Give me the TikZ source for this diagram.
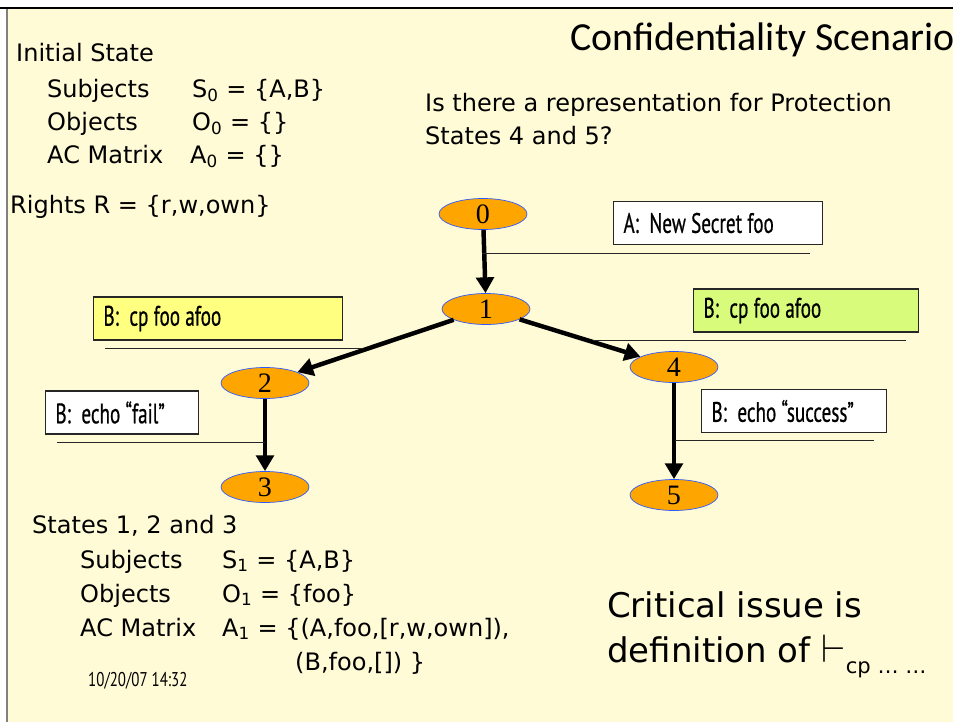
\RequirePackage{fix-cm}
\documentclass[tikz,border=0pt]{standalone}
\usepackage{fontspec}
\setmainfont{DejaVu Sans}
\newfontfamily\titlefont{Carlito}
\newfontfamily\boxfont{PT Sans}[FakeStretch=0.68,FakeBold=0.6]
\newfontfamily\datefont{PT Sans}[FakeStretch=0.75]
\newfontfamily\numfont{Liberation Serif}
\newcommand\cmdspacing{\spaceskip=4.5pt\relax}
\usetikzlibrary{shapes.geometric}
\usetikzlibrary{arrows.meta}
\definecolor{slidebg}{HTML}{FFFBD6}
\definecolor{stateorange}{HTML}{FFA500}
\definecolor{stateblue}{HTML}{2E5BFF}
\definecolor{cpyellow}{HTML}{FFFF80}
\definecolor{cpgreen}{HTML}{D9FB7B}

\begin{document}
\begin{tikzpicture}[x=0.03cm,y=-0.03cm,
  state/.style={ellipse,draw=stateblue,fill=stateorange,line width=0.6pt,
    minimum width=2.64cm,minimum height=0.93cm,inner sep=0pt,
    font=\numfont\fontsize{24}{26}\selectfont},
  cmdbox/.style={draw=black!85,fill=white,line width=0.9pt,anchor=west,
    inner xsep=0.3cm,minimum height=1.29cm,align=left,
    font=\boxfont\fontsize{24}{26}\selectfont},
  txt/.style={anchor=base west,inner sep=0pt,font=\fontsize{20.5}{24}\selectfont},
  trans/.style={line width=3.8pt,-{Triangle[width=15pt,length=13.5pt]}},
  rule/.style={line width=0.8pt,black!85}]
\useasboundingbox (0,0) rectangle (953,722);
\fill [slidebg] (6,8) rectangle (953,722);
\draw [line width=1.6pt, gray] (7,8) -- (7,722);
\draw [line width=1pt] (0,8) -- (953,8);

\node [anchor=base west,inner sep=0pt,font=\titlefont\fontsize{34}{36}\selectfont] (title) at (570,50) {Confidentiality Scenario};

% initial state
\node [txt] (init) at (16,61) {Initial State};
\node [txt] (subj0) at (47,97) {Subjects};
\node [txt] (set0) at (192,97) {S\textsubscript{0} = \{A,B\}};
\node [txt] (obj0) at (47,130) {Objects};
\node [txt] (oset0) at (192,130) {O\textsubscript{0} = \{\}};
\node [txt] (acm0) at (47,163) {AC Matrix};
\node [txt] (aset0) at (190,163) {A\textsubscript{0} = \{\}};
\node [txt] (rights) at (10,213) {Rights R = \{r,w,own\}};

\node [txt] (quest1) at (425,111) {Is there a representation for Protection};
\node [txt] (quest2) at (425,144) {States 4 and 5?};

% states
\node [state] (n0) at (483,214) {0};
\node [state] (n1) at (486,309) {1};
\node [state] (n2) at (265,383) {2};
\node [state] (n3) at (265,487) {3};
\node [state] (n4) at (674,367) {4};
\node [state] (n5) at (674,495) {5};

\draw [trans] (n0) -- (n1);
\draw [trans] (n1) -- (n2);
\draw [trans] (n1) -- (n4);
\draw [trans] (n2) -- (n3);
\draw [trans] (n4) -- (n5);

% commands
\node [cmdbox,text width=5.67cm] (secret) at (613,223) {\cmdspacing A:\ \ New Secret foo};
\node [cmdbox,fill=cpyellow,text width=6.87cm] (cpleft) at (93,318.5) {\cmdspacing B:\ \ cp foo afoo};
\node [cmdbox,fill=cpgreen,text width=6.15cm] (cpright) at (693,310.5) {\cmdspacing B:\ \ cp foo afoo};
\node [cmdbox,text width=3.99cm] (fail) at (45,412.5) {\cmdspacing B:\ \ echo “fail”};
\node [cmdbox,text width=4.95cm] (success) at (701,411) {\cmdspacing B:\ \ echo “success”};

\draw [rule] (482,253) -- (810,253);
\draw [rule] (105,348) -- (363,348);
\draw [rule] (593,340) -- (906,340);
\draw [rule] (57,442) -- (265,442);
\draw [rule] (675,440) -- (874,440);

% states 1, 2 and 3
\node [txt] (states) at (32,533) {States 1, 2 and 3};
\node [txt] (subj1) at (80,568) {Subjects};
\node [txt] (set1) at (222,568) {S\textsubscript{1} =\ \{A,B\}};
\node [txt] (obj1) at (80,602) {Objects};
\node [txt] (oset1) at (222,602) {O\textsubscript{1} = \{foo\}};
\node [txt] (acm1) at (80,636) {AC Matrix};
\node [txt] (aset1) at (222,636) {A\textsubscript{1} =\ \{(A,foo,[r,w,own]),};
\node [txt] (aset1b) at (295,670) {(B,foo,[]) \}};
\node [anchor=base west,inner sep=0pt,font=\datefont\fontsize{17}{19}\selectfont] (date) at (88,686) {10/20/07 14:32};

\node [txt,font=\fontsize{29}{33}\selectfont] (crit) at (607,617) {Critical issue is};
\node [txt,font=\fontsize{29}{33}\selectfont] (defn) at (607,662) {definition of {\fontsize{34}{38}\selectfont\smash{$\vdash$}}\raisebox{-10pt}{\fontsize{18}{20}\selectfont cp … …}};
\end{tikzpicture}
\end{document}
